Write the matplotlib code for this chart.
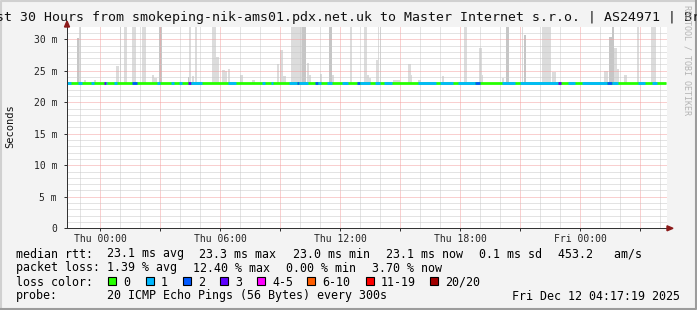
import matplotlib
matplotlib.use("Agg")
import matplotlib.pyplot as plt
from matplotlib.patches import Polygon
from matplotlib.lines import Line2D

plt.rcParams["font.family"] = ["DejaVu Sans Mono"]

W, H = 697, 310

title = "Last 30 Hours from smokeping-nik-ams01.pdx.net.uk to Master Internet s.r.o. | AS24971 | Brno"

# time axis in hours relative to Thu 00:00
t_start, t_end = -1.65, 28.35
data_end = 28.3
median_rtt = 23.1  # ms
y_max = 31.9

xtick_hours = [0, 6, 12, 18, 24]
xtick_labels = ["Thu 00:00", "Thu 06:00", "Thu 12:00", "Thu 18:00", "Fri 00:00"]
ytick_ms = [0, 5, 10, 15, 20, 25, 30]
ytick_labels = ["0", "5 m", "10 m", "15 m", "20 m", "25 m", "30 m"]

# smoke: spans of time (h) and the top of the ping spread (ms); 33 = beyond the top
smoke_from = [-1.15, -1.05, -0.8, -0.3, 0.8, 1.0, 1.2, 1.6, 2.1, 2.6, 2.7, 2.95,
              4.4, 4.45, 4.6, 4.75, 5.6, 5.8, 6.1, 6.25, 6.4, 7.0, 7.6, 8.85,
              9.0, 9.15, 9.55, 10.1, 10.35, 10.45, 11.0, 11.45, 11.6, 12.5, 13.2,
              13.35, 13.45, 13.8, 13.9, 14.0, 14.65, 15.4, 15.55, 15.9, 17.1,
              18.2, 18.95, 19.1, 20.1, 20.3, 21.1, 21.2, 22.1, 22.6, 25.2, 25.45,
              25.6, 25.7, 25.85, 26.2, 26.85, 27.55]
smoke_to = [-1.05, -0.95, -0.7, -0.2, 0.95, 1.05, 1.35, 1.8, 2.3, 2.7, 2.85, 3.1,
            4.5, 4.55, 4.7, 4.85, 5.8, 5.95, 6.25, 6.35, 6.5, 7.15, 7.75, 8.95,
            9.15, 9.3, 10.1, 10.3, 10.45, 10.55, 11.1, 11.6, 11.7, 12.6, 13.35,
            13.45, 13.55, 13.9, 13.95, 14.05, 15.0, 15.55, 15.6, 16.05, 17.2,
            18.35, 19.1, 19.15, 20.2, 20.45, 21.15, 21.3, 22.55, 22.8, 25.4, 25.6,
            25.7, 25.85, 25.95, 26.35, 26.95, 27.8]
smoke_top = [30.2, 33, 23.6, 23.6, 25.8, 33, 33, 33, 33, 24.3, 23.8, 33,
             24.0, 33, 24.2, 33, 33, 27.2, 25.1, 24.9, 25.3, 24.3, 23.6, 26.1,
             28.3, 24.1, 33, 33, 26.2, 24.4, 24.5, 33, 24.4, 33, 33,
             24.3, 23.8, 26.7, 33, 33, 23.5, 26.1, 24.3, 23.6, 24.1,
             33, 28.6, 24.3, 23.9, 33, 33, 30.7, 33, 24.8, 24.9, 30.3,
             33, 28.6, 25.3, 24.3, 33, 33]
smoke_dense = [1, 0, 0, 0, 0, 0, 0, 0, 0, 0, 0, 1,
               1, 0, 0, 0, 0, 0, 0, 0, 0, 0, 0, 0,
               0, 0, 0, 1, 0, 0, 0, 1, 0, 0, 0,
               0, 0, 0, 0, 0, 0, 0, 0, 0, 0,
               0, 0, 0, 0, 1, 0, 1, 0, 0, 0, 1,
               1, 0, 0, 0, 0, 0]
smoke_floor = 23.0

# periods with lost pings (out of 20), rest of the time 0 lost
loss_from = [-1.65, -1.1, -0.45, 0.2, 0.3, 0.7, 1.6, 2.85, 3.55, 3.95, 4.4, 4.55,
             6.4, 8.1, 8.55, 9.45, 9.85, 9.95, 10.75, 10.9, 11.35, 12.1, 12.85,
             13.0, 13.75, 14.2, 15.9, 17.0, 17.9, 18.75, 20.1, 21.0, 22.9, 23.4,
             24.1, 25.35, 25.6, 26.9, 27.6]
loss_to = [-1.45, -0.9, -0.3, 0.3, 0.35, 0.85, 1.85, 3.0, 3.7, 4.1, 4.55, 5.1,
           6.8, 8.25, 8.65, 9.85, 9.95, 10.4, 10.9, 11.05, 11.6, 12.4, 13.0,
           13.5, 14.0, 14.6, 16.8, 17.65, 18.75, 19.0, 20.75, 22.9, 23.05, 23.75,
           25.35, 25.6, 25.9, 27.25, 27.85]
loss_count = [1, 1, 1, 3, 1, 1, 2, 1, 1, 1, 3, 1,
              1, 1, 1, 1, 2, 1, 2, 1, 1, 1, 2,
              1, 1, 1, 1, 1, 1, 2, 1, 1, 3, 1,
              1, 2, 1, 1, 1]

loss_names = ["0", "1", "2", "3", "4-5", "6-10", "11-19", "20/20"]
loss_colors = ["#26ff00", "#00b8ff", "#0059ff", "#5e00ff", "#ff00ff",
               "#ff5e00", "#ff0000", "#a10000"]

row_rtt = [("median rtt:", 16), ("23.1 ms avg", 107), ("23.3 ms max", 199),
           ("23.0 ms min", 293), ("23.1 ms now", 386), ("0.1 ms sd", 479),
           ("453.2   am/s", 558)]
row_loss = [("packet loss:", 16), ("1.39 % avg", 107), ("12.40 % max", 193),
            ("0.00 % min", 286), ("3.70 % now", 372)]
loss_box_x = [108, 146, 183, 220, 257, 307, 366, 430]
probe_text = "20 ICMP Echo Pings (56 Bytes) every 300s"
stamp = "Fri Dec 12 04:17:19 2025"


def fx(px):
    return px / W


def fy(py):
    return 1 - py / H


fig = plt.figure(figsize=(W / 100, H / 100), dpi=100, facecolor="#f3f3f3")
ax = fig.add_axes([fx(67), fy(228.3), 600 / W, 201 / H])
ax.set_facecolor("white")
ax.set_xlim(t_start, t_end)
ax.set_ylim(0, y_max)

# smoke
for a, b, top, dense in zip(smoke_from, smoke_to, smoke_top, smoke_dense):
    ax.bar(a, top - smoke_floor, width=b - a, bottom=smoke_floor, align="edge",
           color="#c6c6c6" if dense else "#dcdcdc", lw=0, zorder=2,
           antialiased=False)

# grid, red every 3 h / 5 ms, grey dotted otherwise
px = 0.72
for h in range(-1, 29):
    col = "#f4a0a0" if h % 3 == 0 else "#c8c8c8"
    ax.axvline(h, color=col, lw=px, ls=(0, (1, 1)), zorder=3)
for v in range(1, 32):
    col = "#f4a0a0" if v % 5 == 0 else "#c8c8c8"
    ax.axhline(v, color=col, lw=px, ls=(0, (1, 1)), zorder=3)

# median line coloured by loss
mlw = 2.0
ax.hlines(median_rtt, t_start, data_end, colors=loss_colors[0], lw=mlw,
          zorder=4, capstyle="butt")
lvl = {0: 0, 1: 1, 2: 2, 3: 3, 4: 4, 5: 4}
for a, b, n in zip(loss_from, loss_to, loss_count):
    ax.hlines(median_rtt, a, b, colors=loss_colors[lvl.get(n, 5)], lw=mlw,
              zorder=5, capstyle="butt")

ax.set_xticks(range(0, 28, 3))
ax.set_xticklabels([xtick_labels[xtick_hours.index(h)] if h in xtick_hours else ""
                    for h in range(0, 28, 3)])
ax.set_yticks(ytick_ms)
ax.set_yticklabels(ytick_labels)
ax.tick_params(axis="both", labelsize=7, length=2.2, width=px, color="#333333",
               labelcolor="#222222")
ax.tick_params(axis="x", pad=2)
ax.tick_params(axis="y", pad=5)
for s in ["top", "right"]:
    ax.spines[s].set_visible(False)
for s in ["left", "bottom"]:
    ax.spines[s].set_color("#333333")
    ax.spines[s].set_linewidth(px)
    ax.spines[s].set_zorder(6)

# axis arrows
fig.add_artist(Polygon([[fx(64.5), fy(27)], [fx(69.5), fy(27)], [fx(67), fy(21)]],
                       closed=True, color="#8b1a1a", transform=fig.transFigure))
fig.add_artist(Polygon([[fx(667), fy(225.8)], [fx(667), fy(230.8)], [fx(673), fy(228.3)]],
                       closed=True, color="#8b1a1a", transform=fig.transFigure))

fig.text(fx(348.5), fy(18), title, ha="center", va="center", fontsize=9.5,
         color="#111111")
fig.text(fx(10), fy(126), "Seconds", rotation=90, ha="center", va="center",
         fontsize=7.5, color="#111111")
fig.text(fx(687), fy(60), "RRDTOOL / TOBI OETIKER", rotation=270, ha="center",
         va="center", fontsize=6, color="#b4b4b4")

lf = 8.4
for txt, x in row_rtt:
    fig.text(fx(x), fy(254), txt, va="center", fontsize=lf)
for txt, x in row_loss:
    fig.text(fx(x), fy(268), txt, va="center", fontsize=lf)
fig.text(fx(16), fy(282), "loss color:", va="center", fontsize=lf)
for name, col, x in zip(loss_names, loss_colors, loss_box_x):
    fig.add_artist(plt.Rectangle((fx(x), fy(285)), 8 / W, 8 / H, facecolor=col,
                                 edgecolor="black", lw=0.8, transform=fig.transFigure))
    fig.text(fx(x + 15), fy(282), name, va="center", fontsize=lf)
fig.text(fx(16), fy(296), "probe:", va="center", fontsize=lf)
fig.text(fx(107), fy(296), probe_text, va="center", fontsize=lf)
fig.text(fx(680), fy(296), stamp, ha="right", va="center", fontsize=lf)

# outer frame
fig.add_artist(Line2D([fx(1), fx(1), fx(696)], [fy(309), fy(1), fy(1)],
                      color="#d0d0d0", lw=1.5, transform=fig.transFigure))
fig.add_artist(Line2D([fx(1), fx(696), fx(696)], [fy(309), fy(309), fy(1)],
                      color="#9c9c9c", lw=1.5, transform=fig.transFigure))

fig.savefig("out.png", dpi=100, facecolor=fig.get_facecolor())
